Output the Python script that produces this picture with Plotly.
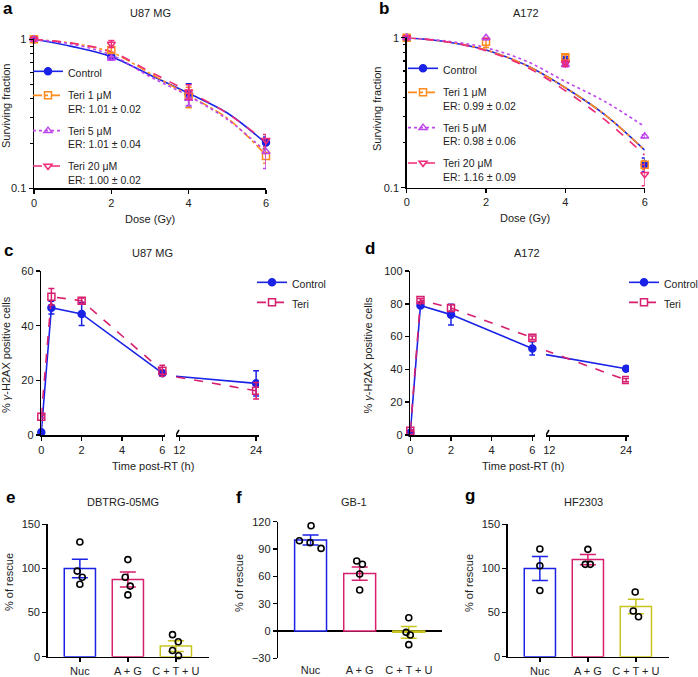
import plotly.graph_objects as go

# ---------------- data ----------------
dose = [0, 2, 4, 6]
a_control = [1, 0.765, 0.427, 0.203]
a_control_err = [0, 0.02, 0.077, 0.018]
a_teri1 = [1, 0.848, 0.412, 0.165]
a_teri1_err = [0, 0.04, 0.065, 0.018]
a_teri5 = [1, 0.745, 0.40, 0.176]
a_teri5_err = [0, 0.02, 0.04, 0.04]
a_teri20 = [1, 0.93, 0.445, 0.21]
a_teri20_err = [0, 0.05, 0.05, 0.02]

fit_dose = [0, 1, 2, 3, 4, 5, 6]
a_fit_control = [1, 0.893, 0.765, 0.576, 0.434, 0.32, 0.2]
a_fit_teri1 = [1, 0.94, 0.818, 0.59, 0.42, 0.295, 0.167]
a_fit_teri5 = [1, 0.926, 0.785, 0.561, 0.416, 0.29, 0.176]
a_fit_teri20 = [1, 0.94, 0.826, 0.606, 0.446, 0.318, 0.205]

b_control = [1, 1.07, 0.70, 0.143]
b_control_err = [0, 0.04, 0.05, 0.015]
b_teri1 = [1, 0.94, 0.74, 0.142]
b_teri1_err = [0, 0.08, 0.03, 0.01]
b_teri5 = [1, 1.0, 0.66, 0.22]
b_teri5_err = [0, 0.03, 0.02, 0.005]
b_teri20 = [1, 1.02, 0.675, 0.123]
b_teri20_err = [0, 0.03, 0.03, 0.02]

b_fit_control = [1, 0.94, 0.827, 0.657, 0.464, 0.306, 0.178]
b_fit_teri1 = [1, 0.94, 0.827, 0.657, 0.464, 0.306, 0.178]
b_fit_teri5 = [1, 0.95, 0.858, 0.70, 0.51, 0.375, 0.255]
b_fit_teri20 = [1, 0.94, 0.819, 0.641, 0.443, 0.283, 0.165]

a_er = ["1.01 ± 0.02", "1.01 ± 0.04", "1.00 ± 0.02"]
b_er = ["0.99 ± 0.02", "0.98 ± 0.06", "1.16 ± 0.09"]

time_h = [0, 0.5, 2, 6, 24]
c_control = [1, 46.6, 44.3, 22.6, 18.9]
c_control_err = [0.5, 2.3, 4.2, 1.0, 4.6]
c_teri = [6.7, 50.6, 49.1, 23.5, 16.2]
c_teri_err = [0.5, 3.0, 1.0, 2.0, 3.0]
d_control = [1.4, 79, 73.4, 52.8, 40.4]
d_control_err = [0.5, 1.0, 6.4, 4.0, 1.5]
d_teri = [2.6, 82.3, 77.4, 59.3, 33.5]
d_teri_err = [0.5, 1.0, 2.0, 1.0, 1.0]

cats = ["Nuc", "A + G", "C + T + U"]
e_mean = [100, 87.5, 12]
e_sem = [10.5, 8.5, 6]
e_pts = [[130, 97, 90, 82], [110, 90, 80, 70], [25, 17, 7, 1]]
f_mean = [100, 63, -1.5]
f_sem = [5.5, 7.3, 6.4]
f_pts = [[115.6, 99, 97, 90.7], [76.8, 73.2, 62.6, 45], [14.6, -1.5, -4.4, -15]]
g_mean = [100, 110, 57]
g_sem = [13.6, 5.8, 8.2]
g_pts = [[122, 103, 75], [121.6, 104.6, 104.6], [73.3, 51.8, 45.3]]

# jitter (horizontal offsets of individual dots, category units)
e_jit = [[0, -0.055, 0.05, 0], [0, -0.055, 0.05, 0], [-0.07, 0.05, -0.07, 0.055]]
f_jit = [[0.01, -0.228, -0.01, 0.214], [-0.06, 0.055, 0, 0], [0, -0.055, 0.03, 0]]
g_jit = [[0, 0, 0], [0, -0.055, 0.05], [-0.014, -0.055, 0.055]]

# ---------------- style ----------------
W, H = 698, 677
FONT = "Liberation Sans, Arial, Helvetica, sans-serif"
BLUE = "#1a22e6"
ORANGE = "#ff8a1e"
PURPLE = "#be46ee"
PINK = "#ef2a78"
MAG = "#d81e6e"
YELLOW = "#c8c41e"


def dx(a, b):
    return [a / W, b / W]


def dy(top, bottom):
    return [1 - bottom / H, 1 - top / H]


fig = go.Figure()

# ---- panels a and b ----
series_ab = [
    ("Control", BLUE, "circle", "solid"),
    ("Teri 1 μM", ORANGE, "square-open", "dashdot"),
    ("Teri 5 μM", PURPLE, "triangle-up-open", "dot"),
    ("Teri 20 μM", PINK, "triangle-down-open", "dash"),
]
a_pts = [(a_control, a_control_err), (a_teri1, a_teri1_err), (a_teri5, a_teri5_err), (a_teri20, a_teri20_err)]
a_fits = [a_fit_control, a_fit_teri1, a_fit_teri5, a_fit_teri20]
b_pts = [(b_control, b_control_err), (b_teri1, b_teri1_err), (b_teri5, b_teri5_err), (b_teri20, b_teri20_err)]
b_fits = [b_fit_control, b_fit_teri1, b_fit_teri5, b_fit_teri20]

for (pts, fits, ers, xa, ya, lg) in [(a_pts, a_fits, a_er, "x", "y", "legend"),
                                     (b_pts, b_fits, b_er, "x2", "y2", "legend2")]:
    for i, (name, col, sym, dash) in enumerate(series_ab):
        fig.add_trace(go.Scatter(x=fit_dose, y=fits[i], mode="lines", line=dict(color=col, width=1.6, dash=dash, shape="spline"),
                                 xaxis=xa, yaxis=ya, showlegend=False, hoverinfo="skip"))
    for i, (name, col, sym, dash) in enumerate(series_ab):
        vals, err = pts[i]
        fig.add_trace(go.Scatter(x=dose, y=vals, mode="markers",
                                 marker=dict(symbol=sym, color=col, size=7, line=dict(color=col, width=1.5)),
                                 error_y=dict(type="data", array=err, color=col, thickness=1.5, width=3),
                                 xaxis=xa, yaxis=ya, showlegend=False, cliponaxis=False))
    for i, (name, col, sym, dash) in enumerate(series_ab):
        label = name if i == 0 else f"{name}<br>ER: {ers[i-1]}"
        fig.add_trace(go.Scatter(x=[None], y=[None], mode="lines+markers", name=label,
                                 marker=dict(symbol=sym, color=col, size=7, line=dict(color=col, width=1.5)),
                                 line=dict(color=col, width=1.6, dash=dash),
                                 xaxis=xa, yaxis=ya, legend=lg, legendgroup=lg + str(i)))

# ---- panels c and d ----
for (ctl, ctl_e, ter, ter_e, xl, xr, ya, lg) in [
        (c_control, c_control_err, c_teri, c_teri_err, "x3", "x4", "y3", "legend3"),
        (d_control, d_control_err, d_teri, d_teri_err, "x5", "x6", "y4", "legend4")]:
    for (vals, err, name, col, sym, dash) in [(ctl, ctl_e, "Control", BLUE, "circle", "solid"),
                                              (ter, ter_e, "Teri", MAG, "square-open", "dash")]:
        mk = dict(symbol=sym, color=col, size=7, line=dict(color=col, width=1.5))
        eb = dict(type="data", color=col, thickness=1.5, width=3)
        fig.add_trace(go.Scatter(x=time_h[:4], y=vals[:4], mode="lines+markers", name=name,
                                 marker=mk, line=dict(color=col, width=1.6, dash=dash),
                                 error_y=dict(eb, array=err[:4]), xaxis=xl, yaxis=ya,
                                 legend=lg, legendgroup=lg + name, cliponaxis=False))
        fig.add_trace(go.Scatter(x=time_h[3:], y=vals[3:], mode="lines+markers", showlegend=False,
                                 marker=mk, line=dict(color=col, width=1.6, dash=dash),
                                 error_y=dict(eb, array=err[3:]), xaxis=xr, yaxis=ya, cliponaxis=True))

# ---- panels e, f, g ----
bar_cols = [BLUE, MAG, YELLOW]
for (mean, sem, pts, jit, xa, ya) in [(e_mean, e_sem, e_pts, e_jit, "x7", "y5"),
                                      (f_mean, f_sem, f_pts, f_jit, "x8", "y6"),
                                      (g_mean, g_sem, g_pts, g_jit, "x9", "y7")]:
    for i in range(len(cats)):
        fig.add_trace(go.Bar(x=[i], y=[mean[i]], width=0.65,
                             marker=dict(color="white", line=dict(color=bar_cols[i], width=1.5)),
                             error_y=dict(type="data", array=[sem[i]], color=bar_cols[i], thickness=1.5, width=8),
                             xaxis=xa, yaxis=ya, showlegend=False))
    for i in range(len(cats)):
        fig.add_trace(go.Scatter(x=[i + j for j in jit[i]], y=pts[i], mode="markers",
                                 marker=dict(symbol="circle-open", color="black", size=6, line=dict(width=1.6)),
                                 xaxis=xa, yaxis=ya, showlegend=False, cliponaxis=False))

# ---------------- layout ----------------
ax = dict(showline=True, linecolor="black", linewidth=1.5, ticks="outside", ticklen=4, tickwidth=1.5,
          tickcolor="black", showgrid=False, zeroline=False, tickfont=dict(size=11, color="#222"))

minor_log = dict(ticks="outside", ticklen=2.5, tickwidth=1.2, tickcolor="black",
                 tickvals=[0.2, 0.3, 0.4, 0.5, 0.6, 0.7, 0.8, 0.9])

lay = dict(
    width=W, height=H, margin=dict(l=0, r=0, t=0, b=0, autoexpand=False),
    paper_bgcolor="white", plot_bgcolor="white", barmode="overlay", hovermode=False,
    font=dict(family=FONT, size=11, color="#222"),
    xaxis=dict(ax, domain=dx(34, 266), range=[0, 6], tickvals=[0, 2, 4, 6], anchor="y"),
    yaxis=dict(ax, domain=dy(39.3, 188.3), type="log", range=[-1, 0], tickvals=[0.1, 1], ticktext=["0.1", "1"],
               anchor="x", minor=minor_log),
    xaxis2=dict(ax, domain=dx(406.7, 644.7), range=[0, 6], tickvals=[0, 2, 4, 6], anchor="y2"),
    yaxis2=dict(ax, domain=dy(37.7, 187.7), type="log", range=[-1, 0], tickvals=[0.1, 1], ticktext=["0.1", "1"],
                anchor="x2", minor=minor_log),
    xaxis3=dict(ax, domain=dx(41.3, 165), range=[0, 6.13], tickvals=[0, 2, 4, 6], anchor="y3"),
    xaxis4=dict(ax, domain=dx(176, 259), range=[11.48, 24.45], tickvals=[12, 24], anchor="y3"),
    yaxis3=dict(ax, domain=dy(271, 435), range=[0, 60], tickvals=[0, 20, 40, 60], anchor="x3"),
    xaxis5=dict(ax, domain=dx(410.3, 535), range=[0, 6.13], tickvals=[0, 2, 4, 6], anchor="y4"),
    xaxis6=dict(ax, domain=dx(546, 629), range=[11.48, 24.45], tickvals=[12, 24], anchor="y4"),
    yaxis4=dict(ax, domain=dy(271, 435), range=[0, 100], tickvals=[0, 20, 40, 60, 80, 100], anchor="x5"),
    xaxis7=dict(ax, domain=dx(47.7, 209), range=[-0.67, 2.69], tickvals=[0, 1, 2], ticktext=cats, anchor="y5"),
    yaxis5=dict(ax, domain=dy(524.3, 656.7), range=[0, 150], tickvals=[0, 50, 100, 150], anchor="x7"),
    xaxis8=dict(ax, domain=dx(278.3, 441.7), range=[-0.657, 2.67], tickvals=[0, 1, 2], ticktext=cats,
                anchor="y6", showline=False, ticks="", ticklabelstandoff=4),
    yaxis6=dict(ax, domain=dy(521.7, 658.3), range=[-30, 120], tickvals=[-30, 0, 30, 60, 90, 120], anchor="x8",
                zeroline=True, zerolinecolor="black", zerolinewidth=1.5),
    xaxis9=dict(ax, domain=dx(507.7, 669), range=[-0.67, 2.69], tickvals=[0, 1, 2], ticktext=cats, anchor="y7"),
    yaxis7=dict(ax, domain=dy(524.3, 656.7), range=[0, 150], tickvals=[0, 50, 100, 150], anchor="x9"),
)

leg = dict(bgcolor="rgba(0,0,0,0)", borderwidth=0, font=dict(size=10.5, color="#222"), xanchor="left",
           yanchor="top", valign="top", tracegroupgap=5, itemclick=False, itemdoubleclick=False)
lay["legend"] = dict(leg, x=28 / W, y=1 - 58 / H)
lay["legend2"] = dict(leg, x=403 / W, y=1 - 55 / H)
lay["legend3"] = dict(leg, x=252 / W, y=1 - 269 / H, tracegroupgap=1)
lay["legend4"] = dict(leg, x=624 / W, y=1 - 269 / H, tracegroupgap=1)

fig.update_layout(**lay)


def ann(text, x, y, size=11, bold=False, angle=0):
    return dict(xref="paper", yref="paper", x=x / W, y=1 - y / H, showarrow=False, textangle=angle,
                text=f"<b>{text}</b>" if bold else text, font=dict(size=size, color="black" if bold else "#222"),
                xanchor="center", yanchor="middle")


anns = [
    ann("a", 8, 8, 17, True), ann("b", 384, 8, 17, True), ann("c", 8, 250, 17, True),
    ann("d", 370, 249, 17, True), ann("e", 10, 497, 17, True), ann("f", 239, 497, 17, True),
    ann("g", 470, 496, 17, True),
    ann("U87 MG", 150, 13), ann("A172", 526, 13), ann("U87 MG", 152, 253), ann("A172", 527, 253),
    ann("DBTRG-05MG", 123, 502), ann("GB-1", 354, 502), ann("HF2303", 583, 502),
    ann("Dose (Gy)", 150, 219), ann("Dose (Gy)", 525, 218),
    ann("Time post-RT (h)", 153, 466), ann("Time post-RT (h)", 523, 466),
    ann("Surviving fraction", 6, 106, angle=-90), ann("Surviving fraction", 377, 109, angle=-90),
    ann("% <i>γ</i>-H2AX positive cells", 6, 355, angle=-90),
    ann("% <i>γ</i>-H2AX positive cells", 367.5, 355, angle=-90),
    ann("% of rescue", 9, 582, angle=-90), ann("% of rescue", 239, 583, angle=-90),
    ann("% of rescue", 469, 583, angle=-90),
]
fig.update_layout(annotations=anns)

# axis break marks
shapes = []
for (xa, ya, xv) in [("x3", "y3", 6.13), ("x4", "y3", 11.48), ("x5", "y4", 6.13), ("x6", "y4", 11.48)]:
    shapes.append(dict(type="line", xref=xa, yref=ya, xsizemode="pixel", ysizemode="pixel",
                       xanchor=xv, yanchor=0, x0=-3, x1=3, y0=-5, y1=5,
                       line=dict(color="black", width=1.5)))
fig.update_layout(shapes=shapes)

fig.write_html("out.html", config={"displayModeBar": False, "staticPlot": True},
               post_script="document.body.style.margin='0px';document.body.style.overflow='hidden';")
